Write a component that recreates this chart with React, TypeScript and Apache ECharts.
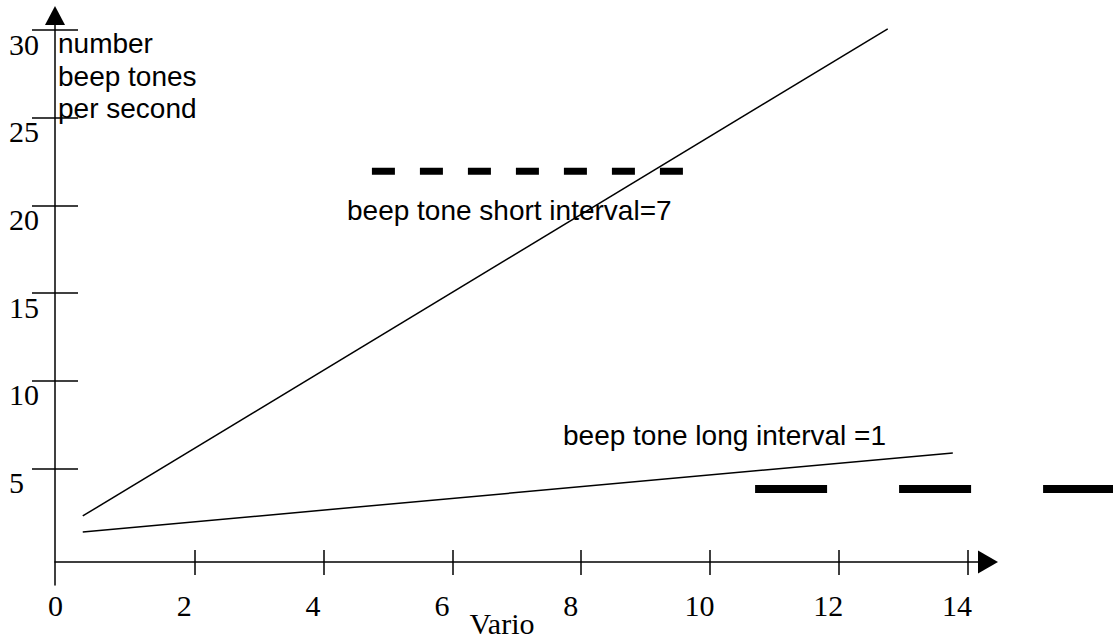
import React, { useEffect, useRef } from "react";
import * as echarts from "echarts";

// ---- data ----
const xTickValues = [2, 4, 6, 8, 10, 12, 14];
const xLabelValues = [0, 2, 4, 6, 8, 10, 12, 14];
const yTickValues = [5, 10, 15, 20, 25, 30];
const shortIntervalLine = [[0.26, 2.3], [12.76, 30.07]];
const longIntervalLine = [[0.26, 1.39], [13.77, 5.89]];
const shortIntervalDash = [[4.75, 21.95], [9.58, 21.95]];
const longIntervalDash = [[10.7, 3.84], [16.3, 3.84]];
const xName = "Vario";
const yName = "number\nbeep tones\nper second";
const shortLabel = "beep tone short interval=7";
const longLabel = "beep tone long interval =1";

// visible axis extents
const X_MIN = -0.171;
const X_MAX = 14.317;
const Y_MIN = -1.636;
const Y_MAX = 30.83;
// plotting layer spans the full width with the same scale
const X_UNIT_PX = 64.4;
const PLOT_LEFT = 55;
const AXIS_RIGHT = 125;
const X_MAX_FULL = X_MIN + (1113 - PLOT_LEFT) / X_UNIT_PX;

const serif = "'Liberation Serif', 'Times New Roman', serif";
const sans = "'Liberation Sans', Arial, sans-serif";
const black = "#000";
const axisLineStyle = { color: black, width: 1.5 };

export default function App() {
  const ref = useRef<HTMLDivElement>(null);
  useEffect(() => {
    if (!ref.current) return;
    const chart = echarts.init(ref.current, undefined, { renderer: "svg" });
    const hiddenAxis = {
      show: false,
      axisLine: { show: false, onZero: false },
      axisTick: { show: false },
      axisLabel: { show: false },
      splitLine: { show: false },
    };
    chart.setOption({
      animation: false,
      backgroundColor: "#fff",
      grid: [
        { left: PLOT_LEFT, right: AXIS_RIGHT, top: 15.5, bottom: 56, containLabel: false, outerBoundsMode: "none" },
        { left: PLOT_LEFT, right: 0, top: 15.5, bottom: 56, containLabel: false, outerBoundsMode: "none" },
      ],
      xAxis: [
        {
          type: "value",
          gridIndex: 0,
          min: X_MIN,
          max: X_MAX,
          position: "bottom",
          offset: -23,
          axisLine: {
            show: true,
            onZero: false,
            symbol: ["none", "triangle"],
            symbolSize: [23, 20],
            lineStyle: axisLineStyle,
          },
          axisTick: { show: true, inside: false, length: 13, customValues: xTickValues, lineStyle: axisLineStyle },
          axisLabel: {
            customValues: xLabelValues,
            margin: 28,
            fontFamily: serif,
            fontSize: 30,
            color: black,
            padding: [0, 21, 0, 0],
          },
          splitLine: { show: false },
          name: xName,
          nameLocation: "middle",
          nameGap: 46,
          nameMoveOverlap: false,
          nameTextStyle: { fontFamily: serif, fontSize: 30, lineHeight: 30, color: black, padding: [0, 39, 0, 0] },
        },
        {
          type: "value",
          gridIndex: 0,
          min: X_MIN,
          max: X_MAX,
          position: "bottom",
          offset: -23,
          axisLine: { show: true, onZero: false, lineStyle: { color: black, opacity: 0 } },
          axisTick: { show: true, inside: true, length: 12, customValues: xTickValues, lineStyle: axisLineStyle },
          axisLabel: { show: false },
          splitLine: { show: false },
        },
        { type: "value", gridIndex: 1, min: X_MIN, max: X_MAX_FULL, position: "bottom", ...hiddenAxis },
      ],
      yAxis: [
        {
          type: "value",
          gridIndex: 0,
          min: Y_MIN,
          max: Y_MAX,
          position: "left",
          axisLine: {
            show: true,
            onZero: false,
            symbol: ["none", "triangle"],
            symbolSize: [20, 19],
            lineStyle: axisLineStyle,
          },
          axisTick: { show: true, inside: false, length: 23, customValues: yTickValues, lineStyle: axisLineStyle },
          axisLabel: {
            customValues: yTickValues,
            margin: 46,
            align: "left",
            verticalAlign: "top",
            lineHeight: 28,
            fontFamily: serif,
            fontSize: 30,
            color: black,
          },
          splitLine: { show: false },
          name: yName,
          nameLocation: "end",
          nameGap: -12,
          nameMoveOverlap: false,
          nameTextStyle: {
            fontFamily: sans,
            fontSize: 28,
            lineHeight: 32.5,
            color: black,
            align: "left",
            verticalAlign: "top",
            padding: [0, 0, 0, 3],
          },
        },
        {
          type: "value",
          gridIndex: 0,
          min: Y_MIN,
          max: Y_MAX,
          position: "left",
          axisLine: { show: true, onZero: false, lineStyle: { color: black, opacity: 0 } },
          axisTick: { show: true, inside: true, length: 23, customValues: yTickValues, lineStyle: axisLineStyle },
          axisLabel: { show: false },
          splitLine: { show: false },
        },
        { type: "value", gridIndex: 1, min: Y_MIN, max: Y_MAX, position: "left", ...hiddenAxis },
      ],
      series: [
        {
          type: "line",
          xAxisIndex: 2,
          yAxisIndex: 2,
          data: shortIntervalLine,
          symbol: "none",
          lineStyle: { color: black, width: 1.5 },
          silent: true,
        },
        {
          type: "line",
          xAxisIndex: 2,
          yAxisIndex: 2,
          data: longIntervalLine,
          symbol: "none",
          lineStyle: { color: black, width: 1.5 },
          silent: true,
        },
        {
          type: "line",
          xAxisIndex: 2,
          yAxisIndex: 2,
          data: shortIntervalDash,
          symbol: "none",
          clip: false,
          lineStyle: { color: black, width: 7, type: [23, 25], cap: "butt" },
          silent: true,
        },
        {
          type: "line",
          xAxisIndex: 2,
          yAxisIndex: 2,
          data: longIntervalDash,
          symbol: "none",
          clip: false,
          lineStyle: { color: black, width: 8, type: [72, 72], cap: "butt" },
          silent: true,
        },
      ],
      graphic: [
        {
          type: "text",
          x: 347,
          y: 210,
          style: { text: shortLabel, font: `28px ${sans}`, fill: black, verticalAlign: "middle", align: "left" },
        },
        {
          type: "text",
          x: 563,
          y: 435,
          style: { text: longLabel, font: `28px ${sans}`, fill: black, verticalAlign: "middle", align: "left" },
        },
      ],
    });
    return () => chart.dispose();
  }, []);
  return (
    <div
      ref={ref}
      style={{ position: "fixed", left: 0, top: 0, width: 1113, height: 641, background: "#fff" }}
    />
  );
}
